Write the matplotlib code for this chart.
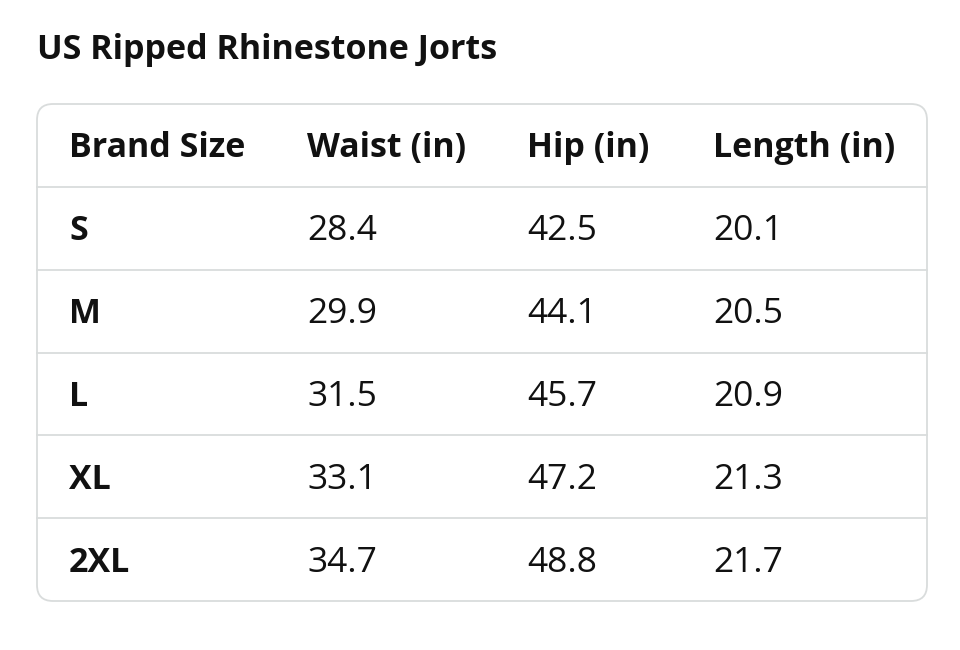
import matplotlib
matplotlib.use("Agg")
import matplotlib.pyplot as plt
from matplotlib.patches import FancyBboxPatch

title = "US Ripped Rhinestone Jorts"
columns = ["Brand Size", "Waist (in)", "Hip (in)", "Length (in)"]
sizes = ["S", "M", "L", "XL", "2XL"]
waist = [28.4, 29.9, 31.5, 33.1, 34.7]
hip = [42.5, 44.1, 45.7, 47.2, 48.8]
length = [20.1, 20.5, 20.9, 21.3, 21.7]

W, H = 960, 650
fig = plt.figure(figsize=(W / 100, H / 100), dpi=100)
ax = fig.add_axes([0, 0, 1, 1])
ax.set_xlim(0, W)
ax.set_ylim(H, 0)
ax.axis("off")

FONT = ["Open Sans", "DejaVu Sans"]
TXT = "#111111"
LINE = "#d9dcdc"
FSB = 24.5
FSR = 25.5
DY = 3

ax.text(37, 47 + DY, title, fontsize=FSB, fontweight="bold", family=FONT,
        color=TXT, va="center", ha="left")

left, top, right, bottom = 37, 104, 927, 601
box = FancyBboxPatch((left, top), right - left, bottom - top,
                     boxstyle="round,pad=0,rounding_size=16",
                     facecolor="white", edgecolor=LINE, linewidth=1.3)
ax.add_patch(box)

col_x = [69, 307, 527, 713]
row_h = (bottom - top) / 6
header_y = top + row_h / 2

for x, c in zip(col_x, columns):
    ax.text(x, header_y + DY, c, fontsize=FSB, fontweight="bold", family=FONT,
            color=TXT, va="center", ha="left")

for i in range(1, 6):
    y = top + i * row_h
    ax.plot([left, right], [y, y], color=LINE, linewidth=1.3)

for i, (s, w, h, l) in enumerate(zip(sizes, waist, hip, length)):
    y = top + (i + 1.5) * row_h + DY
    ax.text(col_x[0], y, s, fontsize=FSB, fontweight="bold", family=FONT,
            color=TXT, va="center", ha="left")
    for x, v in zip(col_x[1:], (w, h, l)):
        ax.text(x, y, f"{v:.1f}", fontsize=FSR, family=FONT,
                color=TXT, va="center", ha="left")

fig.savefig("out.png", dpi=100, facecolor="white")
